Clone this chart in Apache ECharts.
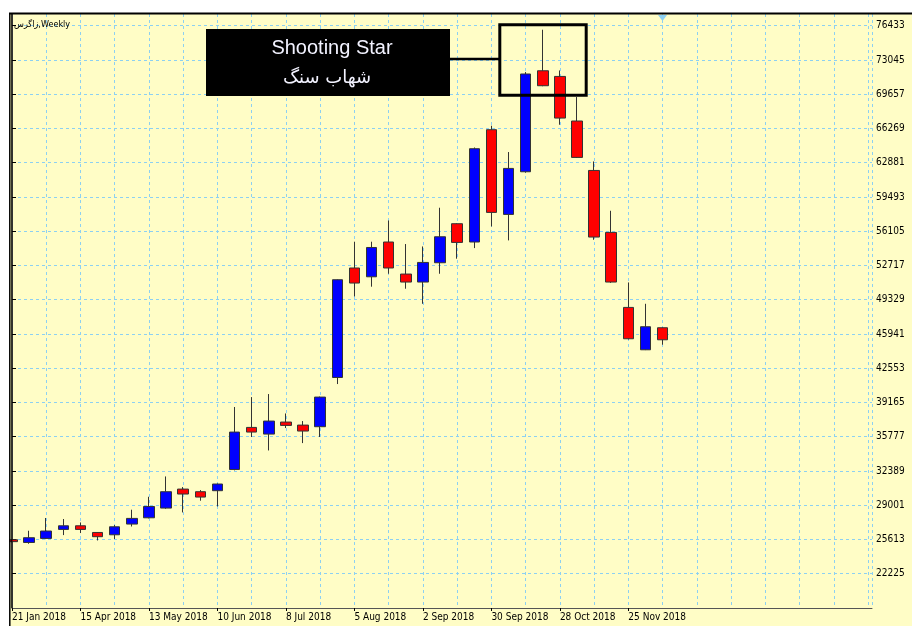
<!DOCTYPE html>
<html>
<head>
<meta charset="utf-8">
<script src="https://cdn.jsdelivr.net/npm/echarts@6/dist/echarts.min.js"></script>
<style>
  html, body { margin: 0; padding: 0; background: #fff; }
  #chart { width: 912px; height: 626px; }
</style>
</head>
<body>
<div id="chart"></div>
<script>
// weekly bars (Zagros)
const dates = [
  '21 Jan 2018', '25 Mar 2018', '1 Apr 2018', '8 Apr 2018', '15 Apr 2018', '22 Apr 2018',
  '29 Apr 2018', '6 May 2018', '13 May 2018', '20 May 2018', '27 May 2018', '3 Jun 2018',
  '10 Jun 2018', '17 Jun 2018', '24 Jun 2018', '1 Jul 2018', '8 Jul 2018', '15 Jul 2018',
  '22 Jul 2018', '29 Jul 2018', '5 Aug 2018', '12 Aug 2018', '19 Aug 2018', '26 Aug 2018',
  '2 Sep 2018', '9 Sep 2018', '16 Sep 2018', '23 Sep 2018', '30 Sep 2018', '7 Oct 2018',
  '14 Oct 2018', '21 Oct 2018', '28 Oct 2018', '4 Nov 2018', '11 Nov 2018', '18 Nov 2018',
  '25 Nov 2018', '2 Dec 2018', '9 Dec 2018'
];
const opens = [
  25590, 25320, 25720, 26610, 26970, 26310, 26080, 27140, 27760, 28720, 30600, 30340, 30440,
  32540, 36700, 36040, 37230, 36930, 36770, 41640, 52470, 51600, 55040, 51870, 51080, 52990,
  56850, 55040, 66150, 57770, 61990, 71980, 71420, 67010, 62120, 55990, 48570, 44380, 46560
];
const closes = [
  25400, 25790, 26450, 26970, 26610, 25890, 26870, 27700, 28880, 30340, 30110, 29810, 31100,
  36240, 36240, 37330, 36900, 36340, 39700, 51310, 50980, 54500, 52470, 51080, 53020, 55560,
  55000, 64270, 57970, 62320, 71660, 70500, 67300, 63410, 55530, 51080, 45470, 46660, 45370
];
const lows = [
  25350, 25190, 25650, 26050, 26250, 25520, 25660, 26900, 27700, 28650, 28290, 29450, 28880,
  32450, 35750, 34420, 36640, 35150, 35750, 40990, 49660, 50620, 51900, 50420, 48930, 51900,
  53390, 54440, 56580, 55200, 61900, 70450, 66640, 63350, 55260, 51000, 45400, 44350, 44880
];
const highs = [
  25650, 26480, 27740, 27640, 27300, 26350, 27040, 28560, 29840, 31850, 30800, 30500, 31150,
  38720, 39700, 40000, 38080, 37330, 39750, 51350, 55070, 55070, 57170, 54840, 54600, 58430,
  56900, 64390, 66540, 63940, 71850, 76040, 72010, 69380, 63010, 58130, 51040, 48930, 46600
];

// tick labels on the price scale and the dated ticks under the bars
const priceTicks = [
  22225, 25613, 29001, 32389, 35777, 39165, 42553, 45941, 49329,
  52717, 56105, 59493, 62881, 66269, 69657, 73045, 76433
];
const dateTicks = [0, 4, 8, 12, 16, 20, 24, 28, 32, 36];

const GRID_COLOR = '#8cd0f2';
const AXIS_COLOR = '#555';
const FONT = '"DejaVu Sans Condensed", "DejaVu Sans", sans-serif';

const candles = dates.map((d, i) => [i, opens[i], closes[i], lows[i], highs[i]]);

const chart = echarts.init(document.getElementById('chart'), null, { renderer: 'canvas' });

chart.setOption({
  backgroundColor: '#FFFDC6',
  animation: false,
  grid: { left: 12, top: 14, right: 40, bottom: 18 },
  xAxis: [
    {
      type: 'value',
      min: 0,
      max: 50.23,
      interval: 2,
      axisLine: { show: true, onZero: false, lineStyle: { color: AXIS_COLOR } },
      axisTick: { show: false },
      axisLabel: { show: false },
      splitLine: { show: true, lineStyle: { type: [3, 3], color: GRID_COLOR, width: 1 } },
    },
    {
      type: 'value',
      position: 'bottom',
      min: 0,
      max: 50.23,
      axisLine: { show: false, onZero: false },
      axisTick: { show: true, length: 3, customValues: dateTicks, lineStyle: { color: '#000' } },
      axisLabel: {
        customValues: dateTicks,
        formatter: (v) => dates[v] || '',
        align: 'left',
        margin: 4,
        fontSize: 10,
        fontFamily: FONT,
        color: '#000',
      },
      splitLine: { show: false },
    },
  ],
  yAxis: {
    type: 'value',
    position: 'right',
    min: 18837,
    max: 77595,
    axisLine: { show: true, lineStyle: { color: AXIS_COLOR } },
    axisTick: { show: true, length: 4, customValues: priceTicks, lineStyle: { color: '#000' } },
    axisLabel: {
      customValues: priceTicks,
      formatter: (v) => String(v),
      margin: 4,
      fontSize: 10,
      fontFamily: FONT,
      color: '#000',
    },
    splitLine: { show: true, lineStyle: { type: [3, 3], color: GRID_COLOR, width: 1 } },
  },
  series: [
    {
      type: 'candlestick',
      xAxisIndex: 0,
      data: candles,
      barWidth: 11,
      itemStyle: {
        color: '#0000FF',
        color0: '#FF0000',
        borderColor: '#333',
        borderColor0: '#333',
        borderWidth: 1,
      },
    },
  ],
  graphic: [
    // white margin round the terminal window + its black frame
    { type: 'rect', z: 10, shape: { x: 0, y: 0, width: 912, height: 13 }, style: { fill: '#fff' } },
    { type: 'rect', z: 10, shape: { x: 0, y: 0, width: 9, height: 626 }, style: { fill: '#fff' } },
    { type: 'line', z: 11, shape: { x1: 9, y1: 13.5, x2: 912, y2: 13.5 }, style: { stroke: '#000', lineWidth: 2 } },
    { type: 'line', z: 11, shape: { x1: 9.8, y1: 13, x2: 9.8, y2: 626 }, style: { stroke: '#000', lineWidth: 1.5 } },
    { type: 'line', z: 11, shape: { x1: 11.8, y1: 14, x2: 11.8, y2: 608 }, style: { stroke: '#000', lineWidth: 1.2 } },
    // symbol / timeframe caption
    {
      type: 'text', z: 12, x: 14, y: 25,
      style: { text: 'زاگرس,Weekly', fontSize: 9, fontFamily: FONT, fill: '#000', verticalAlign: 'middle' },
    },
    // chart shift marker
    { type: 'polygon', z: 12, shape: { points: [[658, 15], [667, 15], [662.5, 21]] }, style: { fill: '#8cd0f2' } },
    // annotation: label box, connector and highlight rectangle
    { type: 'rect', z: 12, shape: { x: 206, y: 29, width: 244, height: 67 }, style: { fill: '#000' } },
    {
      type: 'text', z: 13, x: 332, y: 48,
      style: { text: 'Shooting Star', fontSize: 20, fontFamily: '"Liberation Sans", Arial, sans-serif', fill: '#f2f2ff', align: 'center', verticalAlign: 'middle' },
    },
    {
      type: 'text', z: 13, x: 327, y: 78,
      style: { text: 'شهاب سنگ', fontSize: 18, fontFamily: '"DejaVu Sans", sans-serif', fill: '#f2f2ff', align: 'center', verticalAlign: 'middle' },
    },
    { type: 'line', z: 12, shape: { x1: 450, y1: 59, x2: 499, y2: 59 }, style: { stroke: '#000', lineWidth: 2.5 } },
    { type: 'rect', z: 12, shape: { x: 499.8, y: 24.8, width: 86.4, height: 70.4 }, style: { fill: 'none', stroke: '#000', lineWidth: 3 } },
  ],
});
</script>
</body>
</html>
